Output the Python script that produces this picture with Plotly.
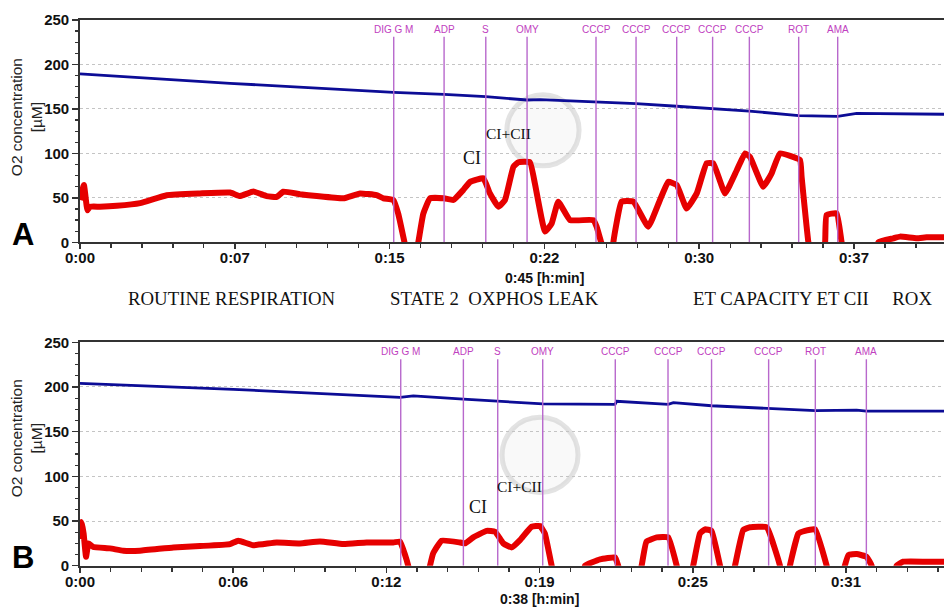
import plotly.graph_objects as go

# ---------------- data (minutes, µM) ----------------
# Panel A
a_red_t = [0.0, 0.19, 0.36, 0.48, 0.97, 1.78, 2.91, 4.2, 5.81, 7.27, 7.75, 8.4, 9.04, 9.53, 9.85,
           10.66, 11.47, 12.76, 13.57, 14.37, 14.7, 15.18, 15.42, 15.72, 15.85, 16.25, 16.39, 16.63,
           16.96, 17.64, 18.09, 18.57, 18.9, 19.54, 19.86, 20.27, 20.59, 21.0, 21.24, 21.8, 22.04,
           22.53, 22.85, 23.17, 23.74, 24.87, 25.03, 25.25, 25.5, 25.8, 25.84, 26.24, 26.81, 27.53,
           28.1, 28.5, 28.91, 29.39, 29.88, 30.36, 30.68, 31.25, 31.82, 32.22, 32.46, 33.1, 33.51,
           33.91, 34.88, 34.96, 35.29, 35.45, 35.95, 36.1, 36.17, 36.66, 36.9, 37.05, 38.5, 38.68,
           39.4, 39.73, 40.54, 41.02, 41.86]
a_red_v = [47.6, 64.5, 36, 40, 40, 41, 44, 53, 55, 56, 52, 57, 52, 51, 57,
           54, 52, 49.5, 55, 53, 49.5, 47.6, 32, 0, -15, -15, 0, 32,
           49.5, 49.5, 47.6, 58.9, 68, 72, 55, 40, 47.6, 85, 90, 90, 66,
           12, 21, 45.7, 25, 25, 17.6, 0, -15, -15, 0, 45.7, 45.7, 17.6,
           47.6, 68, 64.5, 38, 55, 88.9, 88.9, 55, 81, 100, 96, 62.6, 77.6,
           100, 92.6, 73.9, 0, -15, -15, 0, 30.7, 32.6, 0, -15, -15, 0,
           4.5, 6.4, 4.5, 5.6, 5.6]
a_blue_t = [0.0, 7.27, 15.2, 17.64, 19.66, 21.66, 22.3, 25.0, 26.94, 28.91, 30.65, 32.43, 34.82,
            36.71, 37.63, 41.86]
a_blue_v = [189.3, 178.8, 168.5, 166.4, 163.7, 160, 160.5, 158, 156, 153, 150.6, 147.6, 142.4,
            141.7, 145, 144]
a_events = ["DIG G M", "ADP", "S", "OMY", "CCCP", "CCCP", "CCCP", "CCCP", "CCCP", "ROT", "AMA"]
a_event_t = [15.2, 17.64, 19.66, 21.66, 25.0, 26.94, 28.91, 30.65, 32.43, 34.82, 36.71]
a_tickvals = [0, 7.5, 15, 22.5, 30, 37.5]
a_ticktext = ["0:00", "0:07", "0:15", "0:22", "0:30", "0:37"]

# Panel B
b_red_t = [0.0, 0.07, 0.15, 0.25, 0.35, 0.55, 1.24, 1.79, 2.48, 3.86, 4.96, 6.2, 6.54, 7.16, 8.13,
           9.09, 9.92, 10.89, 11.85, 12.95, 13.23, 13.44, 13.57, 13.7, 14.35, 14.47, 14.6, 14.95,
           15.71, 15.92, 16.26, 16.81, 17.16, 17.5, 17.85, 18.19, 18.67, 19.02, 19.22, 19.5, 19.65,
           20.75, 20.88, 21.5, 22.12, 22.25, 22.4, 23.1, 23.22, 23.42, 23.84, 24.32, 24.67, 24.8,
           25.2, 25.35, 25.63, 25.84, 26.11, 26.46, 26.6, 26.95, 27.08, 27.42, 27.7, 28.39, 28.94,
           29.05, 29.25, 29.35, 29.7, 29.97, 30.39, 30.87, 31.0, 31.5, 31.62, 31.77, 32.11, 32.52,
           32.73, 32.85, 33.65, 33.76, 34.03, 35.0, 35.72]
b_red_v = [30, 49, 36, 10, 25, 21, 19.4, 16.8, 16.8, 20.5, 22, 24.2, 28, 23, 26,
           25, 27.2, 24.2, 26, 26, 27, 12, 0, -15, -15, 0, 13.8, 28,
           26, 25, 31.7, 39, 38, 25, 20.5, 28.7, 43.6, 44.4, 36, 0, -15,
           -15, 0, 7, 9.3, 0, -15, -15, 0, 27, 31.7, 31.7, 0, -15,
           -15, 0, 36, 40.7, 39, 0, -15, -15, 0, 40, 43, 43, 0,
           -15, -15, 0, 36, 39, 40.7, 0, -15, -15, 0, 12, 13, 10,
           0, -15, -15, 0, 4.5, 4.5, 4.5]
b_blue_t = [0.0, 6.34, 13.23, 13.78, 15.85, 17.22, 19.13, 22.12, 22.19, 24.32, 24.53, 26.11,
            28.47, 30.4, 32.11, 32.51, 35.72]
b_blue_v = [204, 197.3, 188.4, 190, 186.5, 184.3, 181, 180.5, 184, 180.5, 182.4, 179,
            176, 173.5, 174, 173, 173]
b_events = ["DIG G M", "ADP", "S", "OMY", "CCCP", "CCCP", "CCCP", "CCCP", "ROT", "AMA"]
b_event_t = [13.26, 15.85, 17.27, 19.13, 22.13, 24.31, 26.11, 28.47, 30.40, 32.51]
b_tickvals = [0, 6.333, 12.667, 19, 25.333, 31.667]
b_ticktext = ["0:00", "0:06", "0:12", "0:19", "0:25", "0:31"]

y_tickvals = [0, 50, 100, 150, 200, 250]
phase_labels = ["ROUTINE RESPIRATION", "STATE 2\u00a0\u00a0OXPHOS LEAK",
                "ET CAPACITY ET CII\u00a0\u00a0\u00a0\u00a0\u00a0ROX"]

# ---------------- styling ----------------
RED = "#e60000"
BLUE = "#0c0c96"
EVT_LINE = "#b868cc"
EVT_TXT = "#c040c0"
AX = "#333333"
GRID = "#c4c4c4"

fig = go.Figure()
fig.add_trace(go.Scatter(x=a_blue_t, y=a_blue_v, mode="lines", line=dict(color=BLUE, width=2.8),
                         xaxis="x", yaxis="y", showlegend=False))
fig.add_trace(go.Scatter(x=a_red_t, y=a_red_v, mode="lines",
                         line=dict(color=RED, width=6, shape="spline", smoothing=0.35),
                         xaxis="x", yaxis="y", showlegend=False))
fig.add_trace(go.Scatter(x=b_blue_t, y=b_blue_v, mode="lines", line=dict(color=BLUE, width=2.8),
                         xaxis="x2", yaxis="y2", showlegend=False))
fig.add_trace(go.Scatter(x=b_red_t, y=b_red_v, mode="lines",
                         line=dict(color=RED, width=6, shape="spline", smoothing=0.35),
                         xaxis="x2", yaxis="y2", showlegend=False))

shapes = []
annotations = []


def add_events(names, times, xref, yref):
    for n, t in zip(names, times):
        shapes.append(dict(type="line", xref=xref, yref=yref, x0=t, x1=t, y0=0, y1=231,
                           line=dict(color=EVT_LINE, width=1.4), layer="above"))
        annotations.append(dict(x=t, y=239.5, xref=xref, yref=yref, text=n, showarrow=False,
                                font=dict(family="Arial", size=10, color=EVT_TXT),
                                xanchor="center", yanchor="middle"))


add_events(a_events, a_event_t, "x", "y")
add_events(b_events, b_event_t, "x2", "y2")

# faint watermark circles
shapes.append(dict(type="circle", xref="x", yref="y", x0=22.43 - 1.75, x1=22.43 + 1.75,
                   y0=126 - 40, y1=126 + 40, line=dict(color="rgba(175,175,175,0.35)", width=5),
                   fillcolor="rgba(225,225,225,0.2)", layer="below"))
shapes.append(dict(type="circle", xref="x2", yref="y2", x0=19.02 - 1.57, x1=19.02 + 1.57,
                   y0=124 - 42, y1=124 + 42, line=dict(color="rgba(175,175,175,0.35)", width=5),
                   fillcolor="rgba(225,225,225,0.2)", layer="below"))

serif = "Liberation Serif"
annotations += [
    dict(x=18.98, y=94.5, xref="x", yref="y", text="CI", showarrow=False,
         font=dict(family=serif, size=18, color="#111")),
    dict(x=20.75, y=121.8, xref="x", yref="y", text="CI+CII", showarrow=False,
         font=dict(family=serif, size=15.5, color="#111")),
    dict(x=16.44, y=65.4, xref="x2", yref="y2", text="CI", showarrow=False,
         font=dict(family=serif, size=18, color="#111")),
    dict(x=18.15, y=88.4, xref="x2", yref="y2", text="CI+CII", showarrow=False,
         font=dict(family=serif, size=15.5, color="#111")),
    # x axis titles
    dict(x=22.5, y=(607 - 277.5) / 607, xref="x", yref="paper", text="0:45 [h:min]",
         showarrow=False, xanchor="center", yanchor="middle",
         font=dict(family="Arial", size=14, color="#111", weight="bold")),
    dict(x=19.0, y=(607 - 599) / 607, xref="x2", yref="paper", text="0:38 [h:min]",
         showarrow=False, xanchor="center", yanchor="middle",
         font=dict(family="Arial", size=14, color="#111", weight="bold")),
    # panel letters
    dict(x=-0.066, y=0.613, xref="paper", yref="paper", text="A", showarrow=False,
         xanchor="center", yanchor="middle",
         font=dict(family="Arial", size=31, color="#000", weight="bold")),
    dict(x=-0.066, y=0.081, xref="paper", yref="paper", text="B", showarrow=False,
         xanchor="center", yanchor="middle",
         font=dict(family="Arial", size=31, color="#000", weight="bold")),
    # y axis titles
    dict(x=-0.0625, y=0.807, xref="paper", yref="paper", text="O2 concentration<br>[µM]",
         showarrow=False, textangle=-90, xanchor="center", yanchor="middle",
         font=dict(family="Arial", size=15.5, color="#222")),
    dict(x=-0.0625, y=0.278, xref="paper", yref="paper", text="O2 concentration<br>[µM]",
         showarrow=False, textangle=-90, xanchor="center", yanchor="middle",
         font=dict(family="Arial", size=15.5, color="#222")),
    # phase labels
    dict(x=(231.5 - 80) / 864, y=(607 - 298) / 607, xref="paper", yref="paper",
         text=phase_labels[0], showarrow=False, xanchor="center", yanchor="middle",
         font=dict(family=serif, size=18.8, color="#111")),
    dict(x=(494 - 80) / 864, y=(607 - 298) / 607, xref="paper", yref="paper",
         text=phase_labels[1], showarrow=False, xanchor="center", yanchor="middle",
         font=dict(family=serif, size=18.8, color="#111")),
    dict(x=(812 - 80) / 864, y=(607 - 298) / 607, xref="paper", yref="paper",
         text=phase_labels[2], showarrow=False, xanchor="center", yanchor="middle",
         font=dict(family=serif, size=18.8, color="#111")),
]

tickfont = dict(family="Arial", size=15, color="#111", weight="bold")


def xaxis_cfg(rng, tv, tt, anchor, minor_dt):
    return dict(range=rng, tickvals=tv, ticktext=tt, anchor=anchor, domain=[0, 1],
                automargin=False,
                showline=True, linecolor=AX, linewidth=1.8, mirror=True,
                ticks="outside", ticklen=5, tickwidth=1.5, tickcolor=AX,
                ticklabelstandoff=-4,
                minor=dict(ticks="outside", ticklen=4, dtick=minor_dt, tick0=0, tickcolor=AX,
                           tickwidth=1.3),
                showgrid=False, zeroline=False, tickfont=tickfont, fixedrange=True)


def yaxis_cfg(domain, anchor):
    return dict(range=[0, 250], tickvals=y_tickvals, anchor=anchor, domain=domain,
                automargin=False,
                showline=True, linecolor=AX, linewidth=1.8, ticks="outside", ticklen=6,
                tickwidth=1.5, tickcolor=AX,
                minor=dict(ticks="outside", ticklen=3, dtick=12.5, tick0=0, tickcolor=AX,
                           tickwidth=1.2, showgrid=False),
                showgrid=True, gridcolor=GRID, griddash="3px,3px", gridwidth=1,
                zeroline=False, tickfont=tickfont, fixedrange=True)


fig.update_layout(
    width=944, height=607,
    margin=dict(l=80, r=0, t=0, b=0, autoexpand=False),
    paper_bgcolor="white", plot_bgcolor="white",
    xaxis=xaxis_cfg([0, 41.86], a_tickvals, a_ticktext, "y", 1.5),
    yaxis=yaxis_cfg([0.6008, 0.9671], "x"),
    xaxis2=xaxis_cfg([0, 35.72], b_tickvals, b_ticktext, "y2", 38 / 30),
    yaxis2=yaxis_cfg([0.0680, 0.4361], "x2"),
    shapes=shapes, annotations=annotations,
)

fig.write_html(
    "out.html",
    config={"displayModeBar": False, "staticPlot": True},
    post_script="document.body.style.margin='0';document.body.style.overflow='hidden';",
)
